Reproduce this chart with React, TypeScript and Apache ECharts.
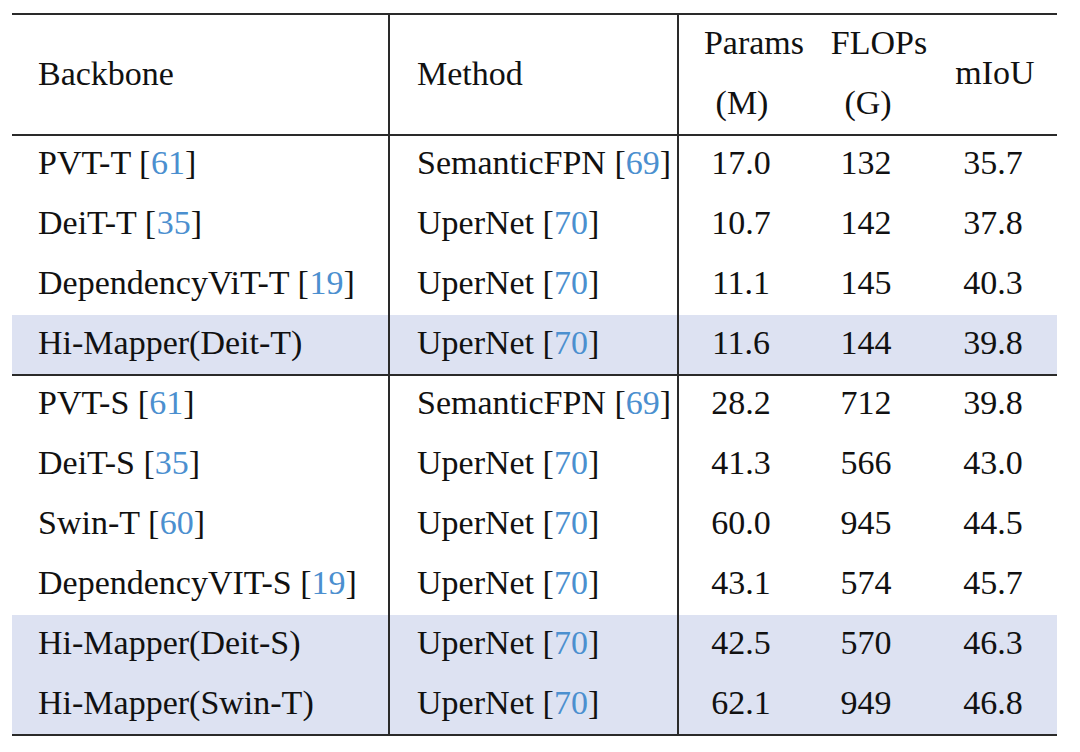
import React, { useEffect, useRef } from "react";
import * as echarts from "echarts";

const backbones = ["PVT-T", "DeiT-T", "DependencyViT-T", "Hi-Mapper(Deit-T)", "PVT-S", "DeiT-S", "Swin-T", "DependencyVIT-S", "Hi-Mapper(Deit-S)", "Hi-Mapper(Swin-T)"];
const backboneRefs = ["61", "35", "19", "", "61", "35", "60", "19", "", ""];
const methods = ["SemanticFPN", "UperNet", "UperNet", "UperNet", "SemanticFPN", "UperNet", "UperNet", "UperNet", "UperNet", "UperNet"];
const methodRefs = ["69", "70", "70", "70", "69", "70", "70", "70", "70", "70"];
const paramsM = ["17.0", "10.7", "11.1", "11.6", "28.2", "41.3", "60.0", "43.1", "42.5", "62.1"];
const flopsG = ["132", "142", "145", "144", "712", "566", "945", "574", "570", "949"];
const miou = ["35.7", "37.8", "40.3", "39.8", "39.8", "43.0", "44.5", "45.7", "46.3", "46.8"];
const highlighted = [false, false, false, true, false, false, false, false, true, true];
const groupBreaks = [4];
const headers = ["Backbone", "Method", "Params", "(M)", "FLOPs", "(G)", "mIoU"];

const FONT = "'Liberation Serif', 'Times New Roman', serif";
const FS = 34;
const TEXT = "#111111";
const REF = "#4b8fcf";
const HL = "#dde2f2";
const LINE = "#2a2a2a";

export default function App() {
  const ref = useRef<HTMLDivElement>(null);
  useEffect(() => {
    if (!ref.current) return;
    const chart = echarts.init(ref.current, null, { renderer: "svg" });
    const L = 12, R = 1057, T = 14, HB = 135, RH = 60;
    const V1 = 389, V2 = 678;
    const n = backbones.length;
    const B = HB + RH * n;
    const rowTop = (i: number) => HB + RH * i;
    const rowMid = (i: number) => rowTop(i) + RH / 2;
    const els: any[] = [];
    highlighted.forEach((h, i) => {
      if (h) els.push({ type: "rect", shape: { x: L, y: rowTop(i), width: R - L, height: RH }, style: { fill: HL }, z: 0 });
    });
    const rich = { t: { fill: TEXT, fontFamily: FONT, fontSize: FS }, r: { fill: REF, fontFamily: FONT, fontSize: FS } };
    const cite = (s: string, r: string) => (r ? `{t|${s} [}{r|${r}}{t|]}` : `{t|${s}}`);
    const txt = (x: number, y: number, s: string, align: string) => ({
      type: "text", x, y, z: 5,
      style: { text: s, fill: TEXT, fontFamily: FONT, fontSize: FS, align, verticalAlign: "middle" },
    });
    const richTxt = (x: number, y: number, s: string) => ({
      type: "text", x, y, z: 5,
      style: { text: s, rich, fontFamily: FONT, fontSize: FS, align: "left", verticalAlign: "middle" },
    });
    els.push(txt(38, 73, headers[0], "left"));
    els.push(txt(417, 73, headers[1], "left"));
    els.push(txt(754, 42, headers[2], "center"));
    els.push(txt(742, 102, headers[3], "center"));
    els.push(txt(879, 42, headers[4], "center"));
    els.push(txt(868, 102, headers[5], "center"));
    els.push(txt(995, 72, headers[6], "center"));
    for (let i = 0; i < n; i++) {
      const y = rowMid(i) - 3;
      els.push(richTxt(38, y, cite(backbones[i], backboneRefs[i])));
      els.push(richTxt(417, y, cite(methods[i], methodRefs[i])));
      els.push(txt(741, y, paramsM[i], "center"));
      els.push(txt(866, y, flopsG[i], "center"));
      els.push(txt(993, y, miou[i], "center"));
    }
    const hline = (y: number) => ({ type: "line", z: 10, shape: { x1: L, y1: y, x2: R, y2: y }, style: { stroke: LINE, lineWidth: 2.2 } });
    const vline = (x: number) => ({ type: "line", z: 10, shape: { x1: x, y1: T, x2: x, y2: B }, style: { stroke: LINE, lineWidth: 2 } });
    els.push(hline(T));
    els.push(hline(HB));
    groupBreaks.forEach((g) => els.push(hline(rowTop(g))));
    els.push(hline(B));
    els.push(vline(V1));
    els.push(vline(V2));

    chart.setOption({
      animation: false,
      backgroundColor: "#ffffff",
      graphic: { elements: els },
    });
    return () => chart.dispose();
  }, []);
  return <div ref={ref} style={{ position: "absolute", left: 0, top: 0, width: 1080, height: 752 }} />;
}
